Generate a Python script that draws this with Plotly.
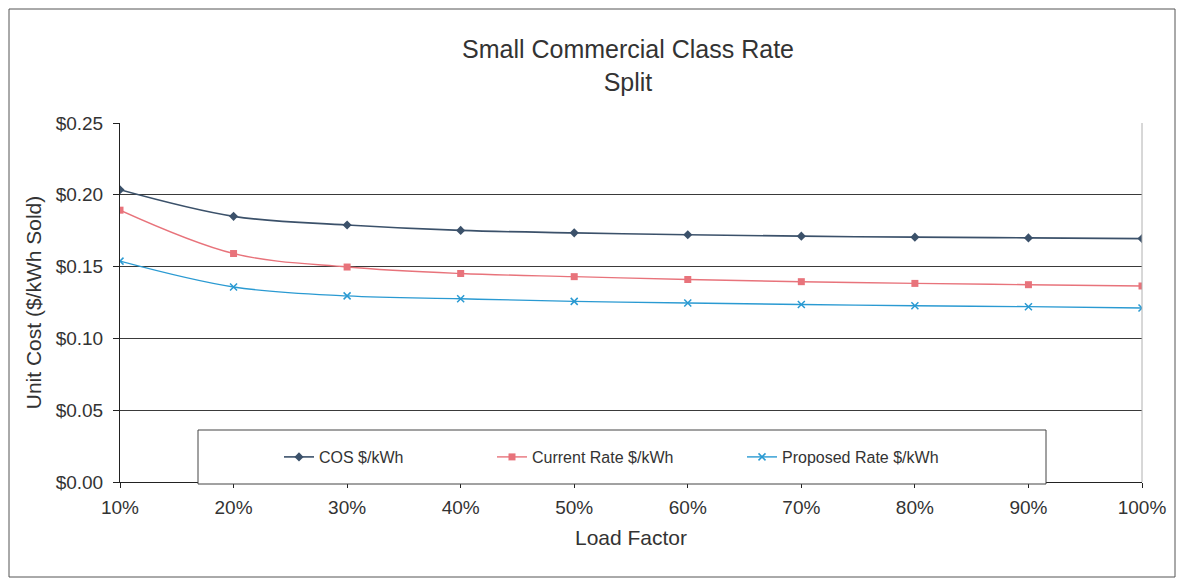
import plotly.graph_objects as go

# Load factor categories (percent) and unit costs in $/kWh
load_factor = [10, 20, 30, 40, 50, 60, 70, 80, 90, 100]
tick_labels = ["10%", "20%", "30%", "40%", "50%", "60%", "70%", "80%", "90%", "100%"]

cos_kwh = [0.2035, 0.1850, 0.1790, 0.1752, 0.1735, 0.1722, 0.1712, 0.1705, 0.1700, 0.1695]
current_rate = [0.1893, 0.1591, 0.1497, 0.1452, 0.1430, 0.1410, 0.1395, 0.1383, 0.1374, 0.1365]
proposed_rate = [0.1538, 0.1358, 0.1296, 0.1276, 0.1258, 0.1246, 0.1236, 0.1227, 0.1221, 0.1212]

FONT = "Liberation Sans, Arial, sans-serif"
TXT = "#333333"

C_COS = "#3b516a"
C_CUR = "#e8737b"
C_PRO = "#2a9ad2"

W, H = 1178, 582
ML, MR, MT, MB = 120, 36, 123, 100
PW, PH = W - ML - MR, H - MT - MB


def px_x(p):
    return (p - ML) / PW


def px_y(p):
    return (H - MB - p) / PH


fig = go.Figure()

fig.add_trace(go.Scatter(
    x=load_factor, y=cos_kwh, name="COS $/kWh", mode="lines+markers",
    line=dict(color=C_COS, width=1.6, shape="spline", smoothing=1.0),
    marker=dict(symbol="diamond", size=7, color=C_COS),
    legend="legend", showlegend=True,
))
fig.add_trace(go.Scatter(
    x=load_factor, y=current_rate, name="Current Rate $/kWh", mode="lines+markers",
    line=dict(color=C_CUR, width=1.4, shape="spline", smoothing=1.0),
    marker=dict(symbol="square", size=7, color=C_CUR),
    legend="legend2", showlegend=True,
))
fig.add_trace(go.Scatter(
    x=load_factor, y=proposed_rate, name="Proposed Rate $/kWh", mode="lines+markers",
    line=dict(color=C_PRO, width=1.4, shape="spline", smoothing=1.0),
    marker=dict(symbol="x-thin", size=7, line=dict(color=C_PRO, width=1.5)),
    legend="legend3", showlegend=True,
))

shapes = [
    # outer chart frame
    dict(type="rect", xref="paper", yref="paper",
         x0=px_x(9), x1=px_x(1175), y0=px_y(577), y1=px_y(9),
         line=dict(color="#555555", width=1), fillcolor="rgba(0,0,0,0)", layer="below"),
    # right edge of the plotting area
    dict(type="line", xref="paper", yref="paper", x0=1, x1=1, y0=0, y1=1,
         line=dict(color="#b0b0b0", width=1)),
    # legend frame
    dict(type="rect", xref="paper", yref="paper",
         x0=px_x(198), x1=px_x(1046), y0=px_y(484), y1=px_y(430),
         line=dict(color="#444444", width=1), fillcolor="white", layer="above"),
]

leg_common = dict(orientation="h", yanchor="middle", xanchor="left",
                  bgcolor="rgba(0,0,0,0)", borderwidth=0, itemwidth=30,
                  font=dict(family=FONT, size=16, color=TXT))

fig.update_layout(
    width=W, height=H,
    margin=dict(l=ML, r=MR, t=MT, b=MB),
    paper_bgcolor="white", plot_bgcolor="white",
    font=dict(family=FONT, color=TXT),
    title=dict(text="Small Commercial Class Rate<br>Split",
               x=px_x(628), xref="paper", xanchor="center",
               y=1 - 58 / H, yref="container", yanchor="top",
               font=dict(family=FONT, size=25, color=TXT)),
    xaxis=dict(range=[10, 100], tickvals=load_factor, ticktext=tick_labels,
               showgrid=False, zeroline=False,
               showline=True, linecolor="#222222", linewidth=1,
               ticks="outside", ticklen=5, tickcolor="#222222",
               ticklabelstandoff=3,
               tickfont=dict(family=FONT, size=19, color=TXT),
               title=dict(text="Load Factor", standoff=13,
                          font=dict(family=FONT, size=21, color=TXT))),
    yaxis=dict(range=[0, 0.25], dtick=0.05, tickformat="$.2f",
               showgrid=True, gridcolor="#3a3a3a", gridwidth=1, zeroline=False,
               showline=True, linecolor="#222222", linewidth=1,
               ticks="outside", ticklen=6, tickcolor="#222222",
               ticklabelstandoff=6,
               tickfont=dict(family=FONT, size=19, color=TXT),
               title=dict(text="Unit Cost ($/kWh Sold)", standoff=8,
                          font=dict(family=FONT, size=21, color=TXT))),
    legend=dict(x=px_x(279), y=px_y(457), **leg_common),
    legend2=dict(x=px_x(492), y=px_y(457), **leg_common),
    legend3=dict(x=px_x(742), y=px_y(457), **leg_common),
    shapes=shapes,
)

fig.write_html("out.html")
